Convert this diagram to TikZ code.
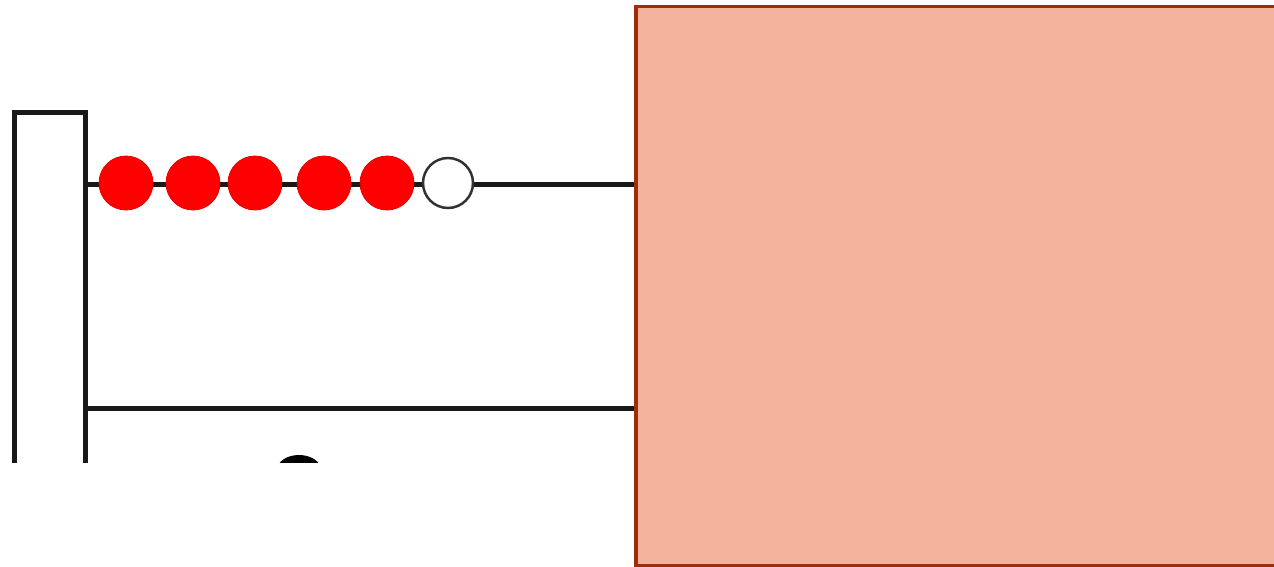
\documentclass[tikz,border=0pt]{standalone}
\usetikzlibrary{shapes.geometric}
\begin{document}
\begin{tikzpicture}[x=1pt,y=-1pt,
  rodline/.style={line width=5pt,draw=black!90},
  bead/.style={circle,minimum size=54pt,inner sep=0pt,fill=red,draw=red!90!black,line width=0.8pt},
  emptybead/.style={circle,minimum size=50pt,inner sep=0pt,fill=white,draw=black!80,line width=2.5pt},
  cover/.style={fill={rgb,255:red,242;green,178;blue,156},draw={rgb,255:red,160;green,45;blue,10},line width=3.5pt}]
\useasboundingbox (0,0) rectangle (1274,567);
\begin{scope}
\clip (0,0) rectangle (640,462);
% frame bar
\draw[rodline] (14,470) -- (14,113) -- (85,113) -- (85,470);
% rods
\coordinate (r1s) at (85,184);
\coordinate (r1e) at (640,184);
\coordinate (r2s) at (85,408);
\coordinate (r2e) at (640,408);
\draw[rodline] (r1s) -- (r1e);
\draw[rodline] (r2s) -- (r2e);
% beads
\node[bead] (b1) at (126,183) {};
\node[bead] (b2) at (193,183) {};
\node[bead] (b3) at (255,183) {};
\node[bead] (b4) at (324,183) {};
\node[bead] (b5) at (387,183) {};
\node[emptybead] (b6) at (448,183) {};
% partially visible bead on lower rod
\node[ellipse,minimum width=44pt,minimum height=30pt,inner sep=0pt,fill=black] (b7) at (299,470) {};
\end{scope}
% cover rectangle
\draw[cover] (636,6.5) rectangle (1290,566);
\end{tikzpicture}
\end{document}
